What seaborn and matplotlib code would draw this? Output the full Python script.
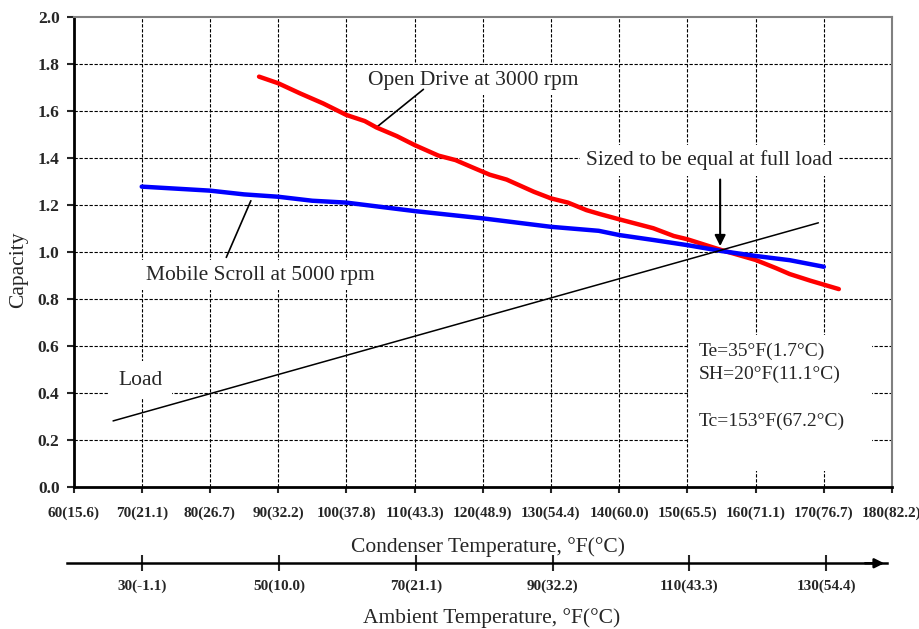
import matplotlib
matplotlib.use('Agg')
import matplotlib.pyplot as plt
from matplotlib.patches import Rectangle
import seaborn as sns

# Open Drive at 3000 rpm (condenser temp F, capacity)
open_x = [87.2, 90, 93.2, 96.6, 100, 102.7, 104.4, 107.4, 110, 113.5, 116, 118.4, 121,
          123.5, 127.5, 130, 132.5, 135.2, 137.2, 140, 145, 148, 150, 155, 160, 163,
          165, 168, 172.2]
open_y = [1.745, 1.717, 1.674, 1.631, 1.582, 1.556, 1.529, 1.492, 1.454, 1.409, 1.39, 1.36,
          1.328, 1.307, 1.255, 1.227, 1.209, 1.177, 1.16, 1.138, 1.10, 1.067, 1.053, 1.007,
          0.965, 0.93, 0.905, 0.877, 0.841]

# Mobile Scroll at 5000 rpm
scroll_x = [70, 80, 85, 90, 95, 100, 110, 120, 130, 137, 140, 145, 150, 155, 160, 165, 170]
scroll_y = [1.277, 1.26, 1.244, 1.234, 1.217, 1.209, 1.173, 1.142, 1.106, 1.089, 1.071,
            1.05, 1.028, 1.003, 0.982, 0.964, 0.936]

# Load line
load_x = [65.8, 169.2]
load_y = [0.28, 1.123]

cond_ticks = [60, 70, 80, 90, 100, 110, 120, 130, 140, 150, 160, 170, 180]
cond_labels = ['60(15.6)', '70(21.1)', '80(26.7)', '90(32.2)', '100(37.8)', '110(43.3)',
               '120(48.9)', '130(54.4)', '140(60.0)', '150(65.5)', '160(71.1)',
               '170(76.7)', '180(82.2)']
amb_ticks = [30, 50, 70, 90, 110, 130]
amb_labels = ['30(-1.1)', '50(10.0)', '70(21.1)', '90(32.2)', '110(43.3)', '130(54.4)']
cap_ticks = [0.0, 0.2, 0.4, 0.6, 0.8, 1.0, 1.2, 1.4, 1.6, 1.8, 2.0]

sns.set_style('white')
plt.rcParams['font.family'] = ['Liberation Serif', 'DejaVu Serif']

fig = plt.figure(figsize=(9.2, 6.29), dpi=100)
ax = fig.add_axes([0.0799, 0.2262, 0.8897, 0.7472])

# curves
sns.lineplot(x=open_x, y=open_y, color='#ff0000', lw=3.2, estimator=None, ax=ax, zorder=4)
sns.lineplot(x=scroll_x, y=scroll_y, color='#0000ff', lw=3.2, estimator=None, ax=ax, zorder=4)
sns.lineplot(x=load_x, y=load_y, color='black', lw=1.1, estimator=None, ax=ax, zorder=4)

ax.set_xlim(60, 180)
ax.set_ylim(0, 2.0)
ax.set_xticks(cond_ticks)
ax.set_xticklabels(cond_labels, fontsize=11, fontweight='bold')
ax.set_yticks(cap_ticks)
ax.set_yticklabels([f'{v:.1f}' for v in cap_ticks], fontsize=12.5, fontweight='bold')
ax.tick_params(axis='x', bottom=True, direction='out', length=4, width=1.5, pad=10)
ax.tick_params(axis='y', left=True, direction='out', length=5, width=1.5, pad=5)

# dashed grid, not on the frame edges
ax.grid(True, color='black', linestyle=(0, (3, 1.5)), linewidth=0.8)
ax.set_axisbelow(True)
for gl in [ax.get_xgridlines()[0], ax.get_xgridlines()[-1],
           ax.get_ygridlines()[0], ax.get_ygridlines()[-1]]:
    gl.set_visible(False)

for side in ['left', 'bottom']:
    ax.spines[side].set_color('black')
    ax.spines[side].set_linewidth(2)
for side in ['top', 'right']:
    ax.spines[side].set_color('#808080')
    ax.spines[side].set_linewidth(1.5)

# annotations
box = dict(facecolor='white', edgecolor='none', pad=4)
ax.text(103.2, 1.73, 'Open Drive at 3000 rpm', fontsize=15.5, ha='left', va='center',
        bbox=box, zorder=3)
ax.plot([111.3, 104.4], [1.691, 1.529], color='black', lw=1.2, zorder=3.5)
ax.text(70.7, 0.90, 'Mobile Scroll at 5000 rpm', fontsize=15.5, ha='left', va='center',
        bbox=box, zorder=3)
ax.plot([86.0, 82.4], [1.217, 0.976], color='black', lw=1.2, zorder=3.5)
ax.text(66.6, 0.454, 'Load', fontsize=15.5, ha='left', va='center',
        bbox=dict(facecolor='white', edgecolor='none', pad=7), zorder=3)
ax.text(135.1, 1.39, 'Sized to be equal at full load', fontsize=15.5, ha='left',
        va='center', bbox=box, zorder=3)
ax.annotate('', xy=(154.8, 1.012), xytext=(154.8, 1.319),
            arrowprops=dict(arrowstyle='-|>', color='black', lw=1.5, mutation_scale=16),
            zorder=5)

# conditions block on a white patch
ax.add_patch(Rectangle((150.3, 0.067), 26.7, 0.578, facecolor='white', edgecolor='none',
                       zorder=2.8))
ax.text(151.6, 0.612, 'Te=35°F(1.7°C)\nSH=20°F(11.1°C)\n\nTc=153°F(67.2°C)', fontsize=14,
        ha='left', va='top', linespacing=1.45, zorder=3)

# axis labels
fig.text(488 / 920, 1 - 547 / 629, 'Condenser Temperature, °F(°C)', fontsize=15.5,
         ha='center', va='center')
fig.text(19 / 920, 1 - 270 / 629, 'Capacity', fontsize=15.5, rotation=90,
         ha='center', va='center')

# ambient temperature scale below
ax2 = fig.add_axes([0.0725, 0.1045, 0.8916, 0.0001])
ax2.set_facecolor('none')
ax2.set_xlim(18.94, 138.9)
ax2.set_yticks([])
for side in ['left', 'right', 'top']:
    ax2.spines[side].set_visible(False)
ax2.spines['bottom'].set_color('black')
ax2.spines['bottom'].set_linewidth(1.8)
ax2.set_xticks(amb_ticks)
ax2.set_xticklabels(amb_labels, fontsize=11, fontweight='bold')
ax2.tick_params(axis='x', bottom=True, direction='inout', length=12, width=1.5, pad=6)
ax2.annotate('', xy=(1.0, 0), xytext=(0.97, 0), xycoords='axes fraction',
             arrowprops=dict(arrowstyle='-|>', color='black', lw=1.8, mutation_scale=14))
fig.text(492 / 920, 1 - 618 / 629, 'Ambient Temperature, °F(°C)', fontsize=15.5,
         ha='center', va='center')

fig.savefig('out.png', dpi=100)
